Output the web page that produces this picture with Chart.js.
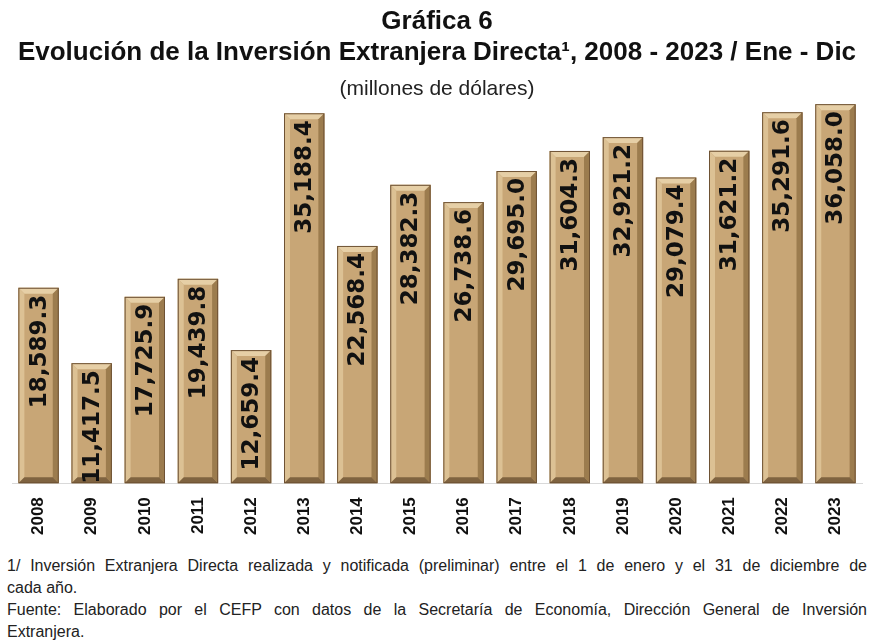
<!DOCTYPE html>
<html lang="es">
<head>
<meta charset="utf-8">
<title>Gráfica 6</title>
<script src="https://cdn.jsdelivr.net/npm/chart.js@4/dist/chart.umd.min.js"></script>
<style>
  html, body { margin: 0; padding: 0; background: #fff; }
  body { width: 876px; height: 641px; overflow: hidden; }
  #caja { position: relative; width: 876px; height: 548px; }
  #notas { font-family: "Liberation Sans", Arial, sans-serif; font-size: 16px; color: #222; padding: 0 9px 0 7px; margin-top: 7px; line-height: 22px; }
  #notas .just { text-align: justify; text-align-last: justify; }
</style>
</head>
<body>
<div id="caja"><canvas id="grafica"></canvas></div>
<div id="notas">
  <div class="just">1/ Inversión Extranjera Directa realizada y notificada (preliminar) entre el 1 de enero y el 31 de diciembre de</div>
  <div>cada año.</div>
  <div class="just">Fuente: Elaborado por el CEFP con datos de la Secretaría de Economía, Dirección General de Inversión</div>
  <div>Extranjera.</div>
</div>
<script>
// Gráfica 6 — IED 2008-2023, barras con relieve y etiquetas verticales

const anios = ['2008', '2009', '2010', '2011', '2012', '2013', '2014', '2015',
  '2016', '2017', '2018', '2019', '2020', '2021', '2022', '2023'];
const inversion = [18589.3, 11417.5, 17725.9, 19439.8, 12659.4, 35188.4, 22568.4, 28382.3,
  26738.6, 29695.0, 31604.3, 32921.2, 29079.4, 31621.2, 35291.6, 36058.0];

const COLOR_CARA = '#c8a676';
const COLOR_BORDE = '#6e5234';
const COLOR_LUZ = '#e6cfa6';
const COLOR_SOMBRA = '#9c7c4e';

function formatoMiles(v) {
  return v.toLocaleString('en-US', { minimumFractionDigits: 1, maximumFractionDigits: 1 });
}

// relieve tipo "bisel" sobre cada barra
const pluginBisel = {
  id: 'bisel',
  afterDatasetsDraw(chart) {
    const ctx = chart.ctx;
    const b = 6;
    chart.getDatasetMeta(0).data.forEach((bar) => {
      const izq = bar.x - bar.width / 2;
      const der = bar.x + bar.width / 2;
      const arr = bar.y;
      const abj = bar.base;
      ctx.save();
      // arriba
      ctx.fillStyle = COLOR_LUZ;
      ctx.beginPath();
      ctx.moveTo(izq, arr); ctx.lineTo(der, arr); ctx.lineTo(der - b, arr + b); ctx.lineTo(izq + b, arr + b);
      ctx.closePath(); ctx.fill();
      // izquierda
      ctx.fillStyle = '#dcc194';
      ctx.beginPath();
      ctx.moveTo(izq, arr); ctx.lineTo(izq + b, arr + b); ctx.lineTo(izq + b, abj - b); ctx.lineTo(izq, abj);
      ctx.closePath(); ctx.fill();
      // derecha
      ctx.fillStyle = COLOR_SOMBRA;
      ctx.beginPath();
      ctx.moveTo(der, arr); ctx.lineTo(der, abj); ctx.lineTo(der - b, abj - b); ctx.lineTo(der - b, arr + b);
      ctx.closePath(); ctx.fill();
      // abajo
      ctx.fillStyle = '#7f6340';
      ctx.beginPath();
      ctx.moveTo(izq, abj); ctx.lineTo(der, abj); ctx.lineTo(der - b, abj - b); ctx.lineTo(izq + b, abj - b);
      ctx.closePath(); ctx.fill();
      ctx.strokeStyle = COLOR_BORDE;
      ctx.lineWidth = 1;
      ctx.strokeRect(izq + 0.5, arr + 0.5, bar.width - 1, abj - arr - 1);
      ctx.restore();
    });
  }
};

// etiquetas de valor, verticales, pegadas a la parte alta de la barra
const pluginEtiquetas = {
  id: 'etiquetas',
  afterDatasetsDraw(chart) {
    const ctx = chart.ctx;
    chart.getDatasetMeta(0).data.forEach((bar, i) => {
      ctx.save();
      ctx.translate(bar.x + 1, bar.y + 7);
      ctx.rotate(-Math.PI / 2);
      ctx.font = 'bold 23px "DejaVu Sans", Verdana, sans-serif';
      ctx.fillStyle = '#111';
      ctx.textAlign = 'right';
      ctx.textBaseline = 'middle';
      ctx.fillText(formatoMiles(inversion[i]), 0, 0);
      ctx.restore();
    });
  }
};

new Chart(document.getElementById('grafica'), {
  type: 'bar',
  data: {
    labels: anios,
    datasets: [{
      label: 'IED',
      data: inversion,
      backgroundColor: COLOR_CARA,
      borderWidth: 0,
      barPercentage: 0.76,
      categoryPercentage: 1
    }]
  },
  options: {
    responsive: true,
    maintainAspectRatio: false,
    animation: false,
    layout: { padding: { left: 12, right: 14, bottom: 7 } },
    plugins: {
      legend: { display: false },
      tooltip: { enabled: false },
      title: {
        display: true,
        text: ['Gráfica 6', 'Evolución de la Inversión Extranjera Directa¹, 2008 - 2023 / Ene - Dic'],
        color: '#111',
        font: { family: '"Liberation Sans", Arial, sans-serif', size: 26, weight: 'bold', lineHeight: 1.2 },
        padding: { top: 6, bottom: 8 }
      },
      subtitle: {
        display: true,
        text: '(millones de dólares)',
        color: '#222',
        font: { family: '"Liberation Sans", Arial, sans-serif', size: 21 },
        padding: { bottom: 0 }
      }
    },
    scales: {
      x: {
        grid: { display: false },
        border: { display: true, color: '#d9d9d9' },
        ticks: {
          color: '#111',
          minRotation: 90,
          maxRotation: 90,
          padding: 6,
          font: { family: '"Liberation Sans", Arial, sans-serif', size: 17, weight: 'bold' }
        }
      },
      y: {
        display: false,
        min: 0,
        max: 36300
      }
    }
  },
  plugins: [pluginBisel, pluginEtiquetas]
});
</script>
</body>
</html>
